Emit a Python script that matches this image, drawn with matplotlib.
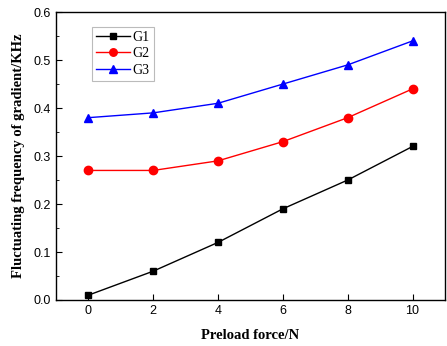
import matplotlib
matplotlib.use('Agg')
import matplotlib.pyplot as plt
from matplotlib.ticker import MultipleLocator

force = [0, 2, 4, 6, 8, 10]
g1 = [0.01, 0.06, 0.12, 0.19, 0.25, 0.32]
g2 = [0.27, 0.27, 0.29, 0.33, 0.38, 0.44]
g3 = [0.38, 0.39, 0.41, 0.45, 0.49, 0.54]

fig = plt.figure(figsize=(4.47, 3.46), dpi=100)
ax = fig.add_axes([0.125, 0.133, 0.8705, 0.832])

ax.plot(force, g1, color='black', marker='s', markersize=5, lw=1, label='G1')
ax.plot(force, g2, color='red', marker='o', markersize=6, lw=1, label='G2')
ax.plot(force, g3, color='blue', marker='^', markersize=6, lw=1, label='G3')

ax.set_xlim(-1, 11)
ax.set_ylim(0, 0.6)
ax.set_xticks(force)
ax.yaxis.set_major_locator(MultipleLocator(0.1))
ax.yaxis.set_minor_locator(MultipleLocator(0.05))
ax.yaxis.set_major_formatter(matplotlib.ticker.FormatStrFormatter('%.1f'))
ax.tick_params(direction='in', which='both', top=False, right=False,
               labelsize=9, labelfontfamily='Liberation Sans', colors='black')
ax.tick_params(which='major', length=4)
ax.tick_params(which='minor', length=2.5)
for sp in ax.spines.values():
    sp.set_linewidth(1)

serif = {'family': 'Liberation Serif', 'weight': 'bold', 'size': 10.5}
ax.set_xlabel('Preload force/N', fontdict=serif, labelpad=9)
ax.set_ylabel('Fluctuating frequency of gradient/KHz', fontdict=serif, labelpad=6)

leg = ax.legend(loc='upper left', bbox_to_anchor=(0.093, 0.95),
                prop={'family': 'Liberation Serif', 'size': 10},
                fancybox=False, framealpha=1, edgecolor='#bbbbbb',
                handlelength=2.4, handletextpad=0.2, labelspacing=0.25,
                borderpad=0.3, borderaxespad=0, markerscale=0.9)
leg.get_frame().set_linewidth(0.8)

fig.savefig('out.png', dpi=100)
